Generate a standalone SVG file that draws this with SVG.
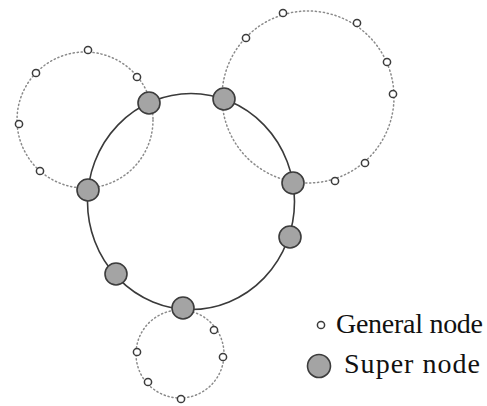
<svg xmlns="http://www.w3.org/2000/svg" width="487" height="406" viewBox="0 0 487 406">
<style>
.ring{fill:none;stroke:#3a3a3a;stroke-width:1.6}
.dot{fill:none;stroke:#8a8a8a;stroke-width:1.5;stroke-dasharray:1.2 2.8;stroke-linecap:round}
.gen{fill:#fff;stroke:#3c3c3c;stroke-width:1.5}
.sup{fill:#a4a4a4;stroke:#3c3c3c;stroke-width:1.6}
.lbl{font-family:"Liberation Serif","Times New Roman",serif;font-size:28px;fill:#111}
</style>
<rect width="487" height="406" fill="#fff"/>
<g id="connectors">
<circle class="dot" cx="85" cy="120" r="68"/>
<circle class="dot" cx="308" cy="97" r="86"/>
<circle class="dot" cx="180" cy="354" r="44"/>
<ellipse class="ring" cx="191" cy="201.5" rx="103.5" ry="108"/>
</g>
<g id="general-nodes">
<circle id="g1" class="gen" cx="88" cy="50" r="3.6"/>
<circle id="g2" class="gen" cx="36" cy="73" r="3.6"/>
<circle id="g3" class="gen" cx="137" cy="77" r="3.6"/>
<circle id="g4" class="gen" cx="19" cy="124" r="3.6"/>
<circle id="g5" class="gen" cx="40" cy="171" r="3.6"/>
<circle id="g6" class="gen" cx="283" cy="13" r="3.6"/>
<circle id="g7" class="gen" cx="357" cy="23" r="3.6"/>
<circle id="g8" class="gen" cx="246" cy="38" r="3.6"/>
<circle id="g9" class="gen" cx="387" cy="62" r="3.6"/>
<circle id="g10" class="gen" cx="393" cy="94" r="3.6"/>
<circle id="g11" class="gen" cx="365" cy="163" r="3.6"/>
<circle id="g12" class="gen" cx="335" cy="181" r="3.6"/>
<circle id="g13" class="gen" cx="214" cy="330" r="3.6"/>
<circle id="g14" class="gen" cx="137" cy="352" r="3.6"/>
<circle id="g15" class="gen" cx="223" cy="357" r="3.6"/>
<circle id="g16" class="gen" cx="148" cy="382" r="3.6"/>
<circle id="g17" class="gen" cx="181" cy="399" r="3.6"/>
</g>
<g id="super-nodes">
<circle id="s1" class="sup" cx="149" cy="103" r="11"/>
<circle id="s2" class="sup" cx="224" cy="99" r="11"/>
<circle id="s3" class="sup" cx="293" cy="183" r="11"/>
<circle id="s4" class="sup" cx="290" cy="237" r="11"/>
<circle id="s5" class="sup" cx="88" cy="190" r="11"/>
<circle id="s6" class="sup" cx="116" cy="274" r="11"/>
<circle id="s7" class="sup" cx="183" cy="308" r="11"/>
</g>
<g id="legend">
<circle class="gen" cx="321" cy="325" r="3.6"/>
<text class="lbl" x="336" y="333" textLength="147" lengthAdjust="spacing">General node</text>
<circle class="sup" cx="319" cy="366" r="11.5"/>
<text class="lbl" x="344" y="373" textLength="136" lengthAdjust="spacing">Super node</text>
</g>
</svg>
